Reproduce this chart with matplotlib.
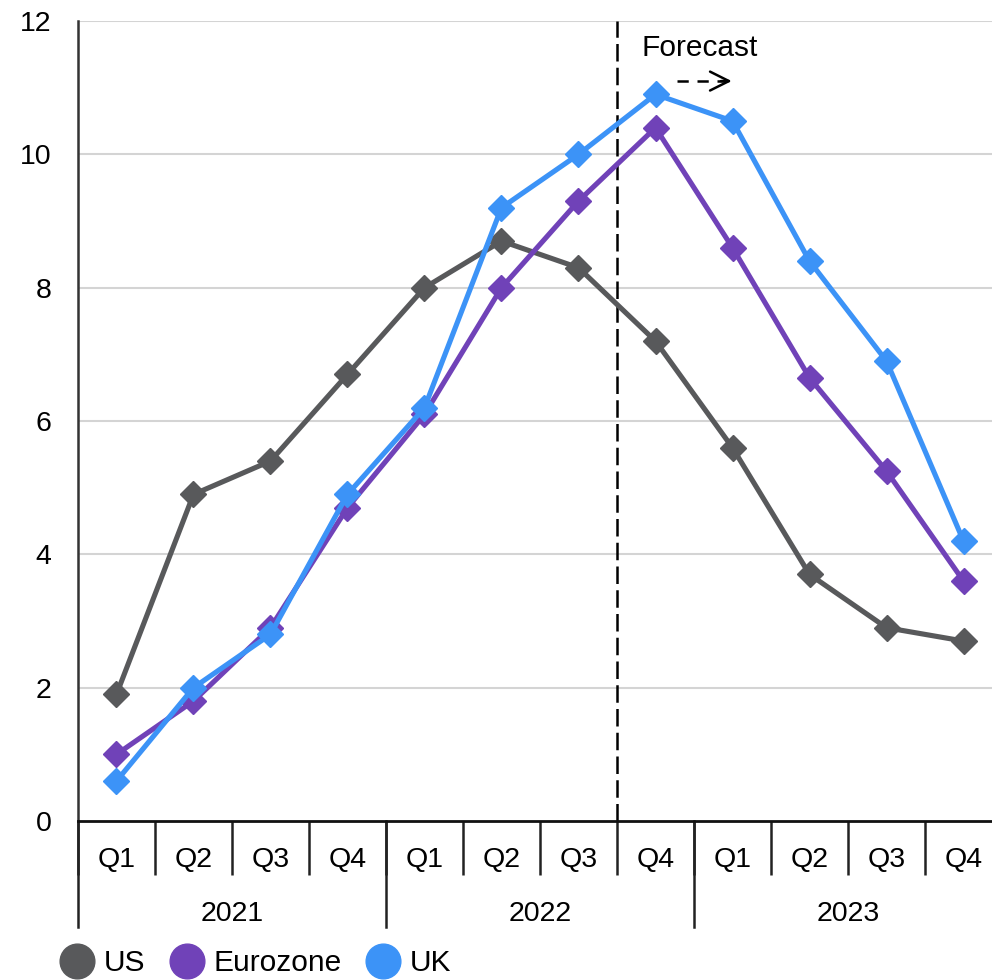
import matplotlib
matplotlib.use('Agg')
import matplotlib.pyplot as plt
from matplotlib.lines import Line2D
import numpy as np

plt.rcParams['font.family'] = ['Liberation Sans', 'DejaVu Sans']

quarters = ['Q1', 'Q2', 'Q3', 'Q4'] * 3
years = ['2021', '2022', '2023']
us = [1.9, 4.9, 5.4, 6.7, 8.0, 8.7, 8.3, 7.2, 5.6, 3.7, 2.9, 2.7]
eurozone = [1.0, 1.8, 2.9, 4.7, 6.1, 8.0, 9.3, 10.4, 8.6, 6.65, 5.25, 3.6]
uk = [0.6, 2.0, 2.8, 4.9, 6.2, 9.2, 10.0, 10.9, 10.5, 8.4, 6.9, 4.2]

c_us = '#58595b'
c_ez = '#7042b8'
c_uk = '#3c93f7'

fig = plt.figure(figsize=(9.92, 9.80), dpi=100)
ax = fig.add_axes([0.0786, 0.1622, 0.9315, 0.8163])

x = np.arange(len(quarters))
for vals, col in [(us, c_us), (eurozone, c_ez), (uk, c_uk)]:
    ax.plot(x, vals, color=col, lw=3.7, marker='D', ms=13.5, zorder=3)

ax.set_xlim(-0.5, len(quarters) - 0.5)
ax.set_ylim(0, 12)
ax.set_yticks(range(0, 13, 2))
ax.tick_params(axis='y', length=0, pad=19, labelsize=20.5)
for yv in range(2, 13, 2):
    ax.axhline(yv, color='#d4d4d4', lw=1.5, zorder=0)

# quarter labels with separators below the axis
ax.set_xticks(x)
ax.set_xticklabels(quarters, fontsize=20.5)
ax.tick_params(axis='x', length=0, pad=19)
ax.set_xticks(np.arange(-0.5, len(quarters), 1), minor=True)
ax.tick_params(axis='x', which='minor', length=39, width=1.8, color='#222222')

# year separators and labels
trans = ax.get_xaxis_transform()
for b in [-0.5, 3.5, 7.5, 11.5]:
    ax.plot([b, b], [0, -0.132], color='#222222', lw=1.8, transform=trans, clip_on=False)
for i, yr in enumerate(years):
    ax.text(4 * i + 1.5, -0.116, yr, transform=trans, ha='center', va='center', fontsize=20.5)

for s in ['top', 'right']:
    ax.spines[s].set_visible(False)
ax.spines['left'].set_color('#333333')
ax.spines['left'].set_linewidth(1.8)
ax.spines['bottom'].set_color('#111111')
ax.spines['bottom'].set_linewidth(2)

# forecast marker
ax.axvline(6.5, color='black', lw=1.8, ls=(0, (7, 2.5)), zorder=2)
ax.text(6.82, 11.6, 'Forecast', fontsize=21.5, va='center', ha='left')
ax.plot([7.28, 7.92], [11.1, 11.1], color='black', lw=1.8, ls=(0, (4.5, 3.5)))
ax.annotate('', xy=(7.99, 11.1), xytext=(7.85, 11.1),
            arrowprops=dict(arrowstyle='->', lw=1.8, color='black',
                            mutation_scale=34, shrinkA=0, shrinkB=0))

handles = [Line2D([], [], ls='', marker='o', ms=25, color=c) for c in (c_us, c_ez, c_uk)]
fig.legend(handles, ['US', 'Eurozone', 'UK'], loc='center left', bbox_to_anchor=(0.0615, 0.017),
           ncol=3, frameon=False, fontsize=21.5, handlelength=1.1, handletextpad=0.33,
           columnspacing=0.85, borderaxespad=0, borderpad=0)

fig.savefig('out.png', dpi=100)
